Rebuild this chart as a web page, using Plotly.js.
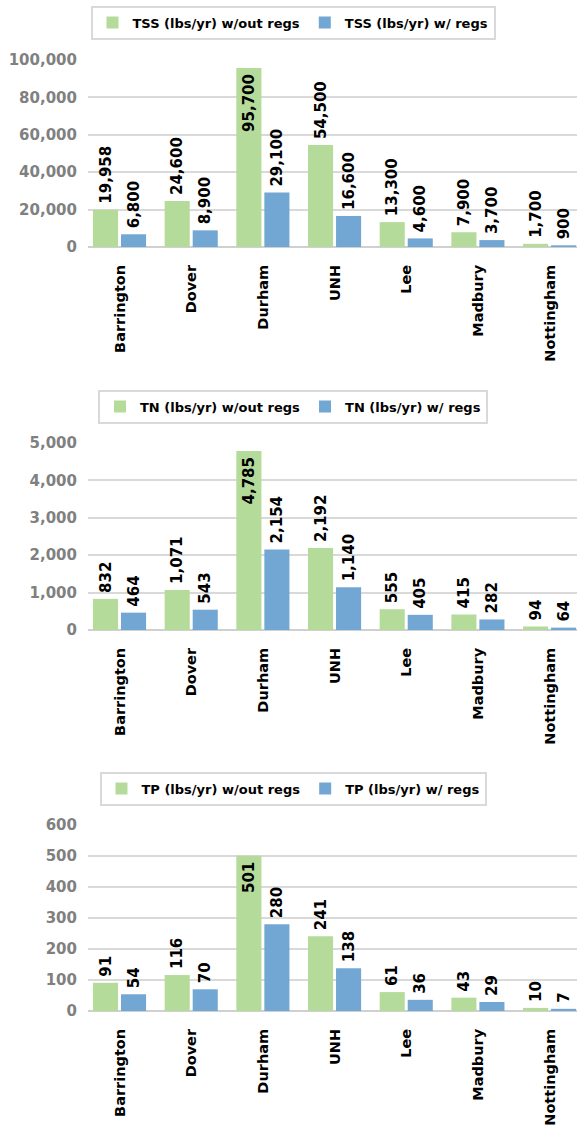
<!DOCTYPE html>
<html>
<head>
<meta charset="utf-8">
<script src="https://cdn.plot.ly/plotly-3.0.1.min.js"></script>
<style>html,body{margin:0;padding:0;background:#fff;}#chart{width:577px;height:1126px;}</style>
</head>
<body>
<div id="chart"></div>
<script>
var towns = ["Barrington", "Dover", "Durham", "UNH", "Lee", "Madbury", "Nottingham"];

var tssNames = ["TSS (lbs/yr) w/out regs", "TSS (lbs/yr) w/ regs"];
var tssWithout = [19958, 24600, 95700, 54500, 13300, 7900, 1700];
var tssWith = [6800, 8900, 29100, 16600, 4600, 3700, 900];

var tnNames = ["TN (lbs/yr) w/out regs", "TN (lbs/yr) w/ regs"];
var tnWithout = [832, 1071, 4785, 2192, 555, 415, 94];
var tnWith = [464, 543, 2154, 1140, 405, 282, 64];

var tpNames = ["TP (lbs/yr) w/out regs", "TP (lbs/yr) w/ regs"];
var tpWithout = [91, 116, 501, 241, 61, 43, 10];
var tpWith = [54, 70, 280, 138, 36, 29, 7];

var GREEN = "#b5db9b", BLUE = "#72a7d4";
var H = 1126;
var FONT = "DejaVu Sans, Verdana, sans-serif";

function pos(vals, insideIdx) {
  return vals.map(function (v, i) { return insideIdx.indexOf(i) >= 0 ? "inside" : "outside"; });
}

function barTrace(name, vals, color, offset, xa, ya, legendId, insideIdx) {
  return {
    type: "bar", name: name, x: towns, y: vals,
    xaxis: xa, yaxis: ya, legend: legendId,
    marker: { color: color, line: { width: 0 } },
    width: 0.35, offset: offset,
    texttemplate: "\u2009%{y:,}\u2009",
    textposition: pos(vals, insideIdx),
    insidetextanchor: "end",
    textangle: -90,
    constraintext: "none",
    cliponaxis: false,
    textfont: { family: FONT, size: 15, color: "#000", weight: "bold" },
    hoverinfo: "x+y"
  };
}

var data = [
  barTrace(tssNames[0], tssWithout, GREEN, -0.377, "x", "y", "legend", [2]),
  barTrace(tssNames[1], tssWith, BLUE, 0.014, "x", "y", "legend", []),
  barTrace(tnNames[0], tnWithout, GREEN, -0.377, "x2", "y2", "legend2", [2]),
  barTrace(tnNames[1], tnWith, BLUE, 0.014, "x2", "y2", "legend2", []),
  barTrace(tpNames[0], tpWithout, GREEN, -0.377, "x3", "y3", "legend3", [2]),
  barTrace(tpNames[1], tpWith, BLUE, 0.014, "x3", "y3", "legend3", [])
];

function pd(top, bottom) { return [1 - bottom / H, 1 - top / H]; }

function xax(anchor) {
  return {
    anchor: anchor, type: "category", range: [-0.4465, 6.376],
    tickangle: -90, showgrid: false, zeroline: false,
    showline: false, ticks: "", ticklabelstandoff: 14,
    tickfont: { family: FONT, size: 14.5, color: "#000", weight: "bold" },
    fixedrange: true
  };
}
function yax(anchor, top, bottom, max, dtick) {
  return {
    anchor: anchor, domain: pd(top, bottom), range: [0, max], dtick: dtick,
    tickformat: ",", showgrid: true, gridcolor: "#d9d9d9", gridwidth: 2,
    zeroline: true, zerolinecolor: "#d0d0d0", zerolinewidth: 2,
    showline: false, ticks: "", ticklabelstandoff: 10,
    tickfont: { family: FONT, size: 15, color: "#808080", weight: "bold" },
    fixedrange: true
  };
}
function leg(centerY) {
  return {
    orientation: "h", x: (293 - 88) / 489, xanchor: "center",
    y: 1 - centerY / H, yanchor: "middle",
    bordercolor: "#d9d9d9", borderwidth: 2, bgcolor: "#fff",
    font: { family: FONT, size: 13, color: "#000", weight: "bold" },
    itemclick: false, itemdoubleclick: false, traceorder: "normal"
  };
}

var layout = {
  width: 577, height: 1126,
  margin: { l: 88, r: 0, t: 0, b: 0 },
  paper_bgcolor: "#fff", plot_bgcolor: "#fff",
  barmode: "overlay", showlegend: true,
  font: { family: FONT },
  xaxis: xax("y"), yaxis: yax("x", 60, 247, 100000, 20000),
  xaxis2: xax("y2"), yaxis2: yax("x2", 443, 630, 5000, 1000),
  xaxis3: xax("y3"), yaxis3: yax("x3", 825, 1011, 600, 100),
  legend: leg(22.5), legend2: leg(406.5), legend3: leg(788.5)
};

Plotly.newPlot("chart", data, layout, { displayModeBar: false, staticPlot: true });
</script>
</body>
</html>
